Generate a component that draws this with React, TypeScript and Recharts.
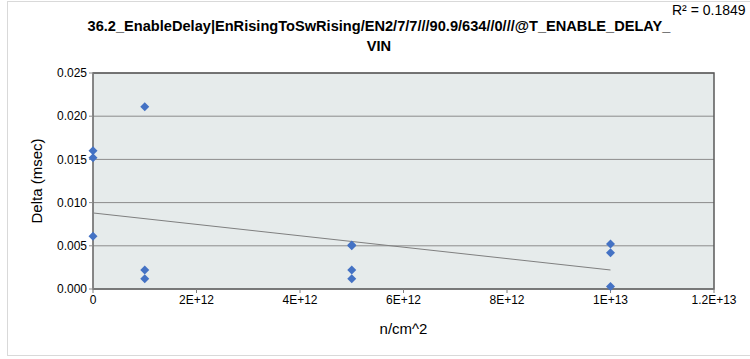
import React from 'react';
import {
  CartesianGrid,
  ReferenceArea,
  ReferenceLine,
  Scatter,
  ScatterChart,
  XAxis,
  YAxis,
} from 'recharts';

// fluence (n/cm^2) and measured delta (msec)
const fluence = [0, 0, 0, 1e12, 1e12, 1e12, 5e12, 5e12, 5e12, 5e12, 1e13, 1e13, 1e13];
const delta = [0.016, 0.0152, 0.0061, 0.0211, 0.0022, 0.0012, 0.0051, 0.005, 0.0022, 0.0012, 0.0052, 0.0042, 0.0003];

// linear trend line end points
const trendX = [0, 1e13];
const trendY = [0.0088, 0.0022];

const xTicks = [0, 2e12, 4e12, 6e12, 8e12, 1e13, 1.2e13];
const xTickLabels = ['0', '2E+12', '4E+12', '6E+12', '8E+12', '1E+13', '1.2E+13'];
const yTicks = [0, 0.005, 0.01, 0.015, 0.02, 0.025];

const title = '36.2_EnableDelay|EnRisingToSwRising/EN2/7/7///90.9/634//0///@T_ENABLE_DELAY_';
const titleLine2 = 'VIN';
const rSquared = 'R\u00b2 = 0.1849';

const points = fluence.map((x, i) => ({ x, y: delta[i] }));

const font = '"Liberation Sans Narrow", "Liberation Sans", Arial, sans-serif';

const Diamond = (props: any) => {
  const { cx, cy } = props;
  const r = 4.5;
  return (
    <polygon
      points={`${cx},${cy - r} ${cx + r},${cy} ${cx},${cy + r} ${cx - r},${cy}`}
      fill="#4472c4"
    />
  );
};

export default function App() {
  return (
    <div
      style={{
        position: 'absolute',
        left: 0,
        top: 0,
        width: 750,
        height: 359,
        background: '#fff',
        fontFamily: font,
      }}
    >
      <div
        style={{
          position: 'absolute',
          left: 7,
          top: 1,
          width: 760,
          height: 355,
          border: '1px solid #d9d9d9',
          boxSizing: 'border-box',
        }}
      />
      <div
        style={{
          position: 'absolute',
          left: 0,
          width: 758,
          top: 16,
          textAlign: 'center',
          fontWeight: 'bold',
          fontSize: 14.6,
          lineHeight: '20px',
          color: '#000',
        }}
      >
        {title}
        <br />
        {titleLine2}
      </div>
      <div
        style={{
          position: 'absolute',
          left: 672,
          top: 2,
          fontSize: 14,
          color: '#000',
        }}
      >
        {rSquared}
      </div>
      <ScatterChart
        width={750}
        height={359}
        margin={{ top: 73, right: 36, bottom: 30, left: 33 }}
        style={{ position: 'absolute', left: 0, top: 0 }}
      >
        <CartesianGrid vertical={false} stroke="#8c8c8c" fill="#e6ebeb" />
        <XAxis
          type="number"
          dataKey="x"
          domain={[0, 1.2e13]}
          ticks={xTicks}
          tickFormatter={(v: number) => xTickLabels[xTicks.indexOf(v)] ?? String(v)}
          tick={{ fontSize: 12, fill: '#000', fontFamily: font }}
          stroke="#7f7f7f"
          tickSize={4}
          height={40}
          label={{ value: 'n/cm^2', position: 'insideBottom', offset: -5, fontSize: 15, fill: '#000', fontFamily: font }}
        />
        <YAxis
          type="number"
          dataKey="y"
          domain={[0, 0.025]}
          ticks={yTicks}
          tickFormatter={(v: number) => v.toFixed(3)}
          tick={{ fontSize: 12, fill: '#000', fontFamily: font }}
          stroke="#8c8c8c"
          tickSize={4}
          width={60}
          label={{ value: 'Delta (msec)', angle: -90, position: 'insideLeft', offset: 4, fontSize: 15, fill: '#000', fontFamily: font, style: { textAnchor: 'middle' } }}
        />
        <ReferenceArea x1={0} x2={1.2e13} y1={0} y2={0.025} fill="none" stroke="#595959" strokeWidth={1.5} />
        <ReferenceLine
          segment={[
            { x: trendX[0], y: trendY[0] },
            { x: trendX[1], y: trendY[1] },
          ]}
          stroke="#7f7f7f"
          strokeWidth={1}
        />
        <Scatter data={points} shape={<Diamond />} isAnimationActive={false} />
      </ScatterChart>
    </div>
  );
}
